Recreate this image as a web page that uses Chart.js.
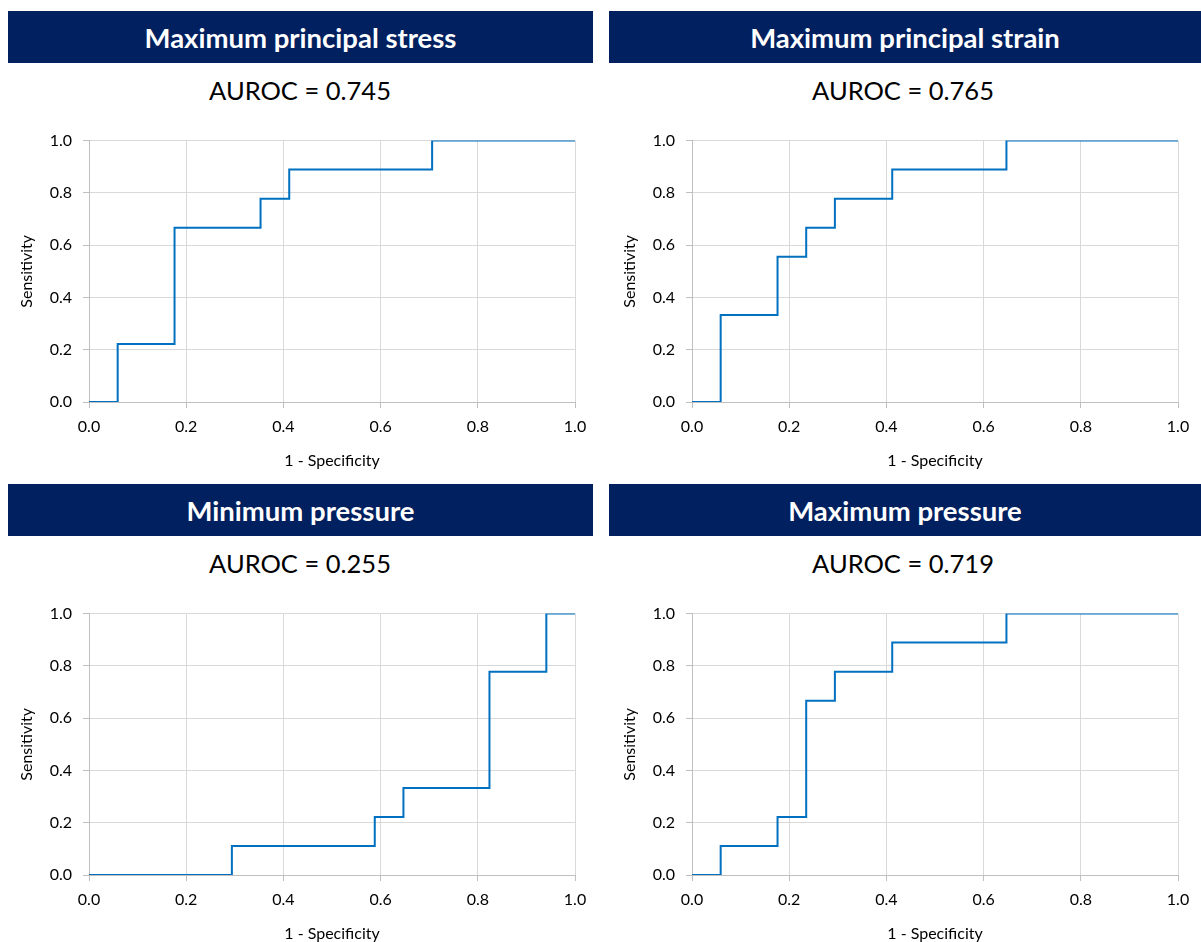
<!DOCTYPE html>
<html>
<head>
<meta charset="utf-8">
<script src="https://cdn.jsdelivr.net/npm/chart.js@4/dist/chart.umd.min.js"></script>
<style>
  html, body { margin: 0; padding: 0; background: #fff; }
  body { width: 1201px; height: 942px; position: relative; overflow: hidden; font-family: Lato, "Open Sans", sans-serif; }
  .hdr { position: absolute; height: 52px; background: #002060; color: #fff; font-weight: bold; font-size: 27.5px;
         display: flex; align-items: center; justify-content: center; }
  .auc { position: absolute; width: 600px; text-align: center; font-size: 25.5px; color: #000; line-height: 30px; }
  .cv { position: absolute; width: 600px; height: 350px; }
</style>
</head>
<body>
<script>
// ---- data ----
const panelTitles = ["Maximum principal stress", "Maximum principal strain", "Minimum pressure", "Maximum pressure"];
const aurocValues = ["0.745", "0.765", "0.255", "0.719"];

const stressFpr = [0, 0.059, 0.176, 0.353, 0.412, 0.706, 1];
const stressTpr = [0, 0.222, 0.667, 0.778, 0.889, 1, 1];

const strainFpr = [0, 0.059, 0.176, 0.235, 0.294, 0.412, 0.647, 1];
const strainTpr = [0, 0.333, 0.556, 0.667, 0.778, 0.889, 1, 1];

const minPressFpr = [0, 0.294, 0.588, 0.647, 0.824, 0.941, 1];
const minPressTpr = [0, 0.111, 0.222, 0.333, 0.778, 1, 1];

const maxPressFpr = [0, 0.059, 0.176, 0.235, 0.294, 0.412, 0.647, 1];
const maxPressTpr = [0, 0.111, 0.222, 0.667, 0.778, 0.889, 1, 1];

const xAxisTitle = "1 - Specificity";
const yAxisTitle = "Sensitivity";

const series = [
  [stressFpr, stressTpr],
  [strainFpr, strainTpr],
  [minPressFpr, minPressTpr],
  [maxPressFpr, maxPressTpr]
];

// ---- layout ----
const offsets = [[0, 0], [603, 0], [0, 473], [603, 473]];
const headerBoxes = [[8, 11, 585], [609, 11, 592], [8, 484, 585], [609, 484, 592]];

const FONT = "Lato, 'Open Sans', sans-serif";
const gridColor = "#D9D9D9";
const axisColor = "#BFBFBF";
const lineColor = "#0070C0";

series.forEach((s, i) => {
  const [ox, oy] = offsets[i];
  const hb = headerBoxes[i];
  const h = document.createElement("div");
  h.className = "hdr";
  h.style.left = hb[0] + "px"; h.style.top = hb[1] + "px"; h.style.width = hb[2] + "px";
  h.textContent = panelTitles[i];
  document.body.appendChild(h);

  const a = document.createElement("div");
  a.className = "auc";
  a.style.left = ox + "px"; a.style.top = (oy + 75) + "px";
  a.textContent = "AUROC = " + aurocValues[i];
  document.body.appendChild(a);

  const c = document.createElement("canvas");
  c.className = "cv";
  c.width = 600; c.height = 350;
  c.style.left = ox + "px"; c.style.top = (oy + 120) + "px";
  document.body.appendChild(c);

  const pts = s[0].map((x, k) => ({ x: x, y: s[1][k] }));

  new Chart(c, {
    type: "scatter",
    data: {
      datasets: [{
        data: pts,
        showLine: true,
        stepped: "before",
        borderColor: lineColor,
        borderWidth: 2,
        pointRadius: 0,
        pointHoverRadius: 0,
        fill: false
      }]
    },
    options: {
      responsive: false,
      animation: false,
      events: [],
      layout: { padding: { top: 19, right: 25, left: 0, bottom: 0 } },
      plugins: { legend: { display: false }, tooltip: { enabled: false } },
      scales: {
        x: {
          type: "linear", min: 0, max: 1,
          afterFit: (sc) => { sc.height = 68; },
          ticks: { stepSize: 0.2, color: "#000", font: { family: FONT, size: 16 }, padding: 9,
                   callback: (v) => Number(v).toFixed(1) },
          grid: { color: gridColor, tickLength: 6, tickColor: axisColor, lineWidth: 1 },
          border: { color: axisColor, width: 1 },
          title: { display: true, text: xAxisTitle, color: "#000", font: { family: FONT, size: 16 },
                   padding: { top: 0, bottom: 0 } }
        },
        y: {
          type: "linear", min: 0, max: 1,
          afterFit: (sc) => { sc.width = 89; },
          ticks: { stepSize: 0.2, color: "#000", font: { family: FONT, size: 16 }, padding: 11,
                   callback: (v) => Number(v).toFixed(1) },
          grid: { color: gridColor, tickLength: 6, tickColor: axisColor, lineWidth: 1 },
          border: { color: axisColor, width: 1 },
          title: { display: true, text: yAxisTitle, color: "#000", font: { family: FONT, size: 16 },
                   padding: { top: 17, bottom: 0 } }
        }
      }
    }
  });
});
</script>
</body>
</html>
